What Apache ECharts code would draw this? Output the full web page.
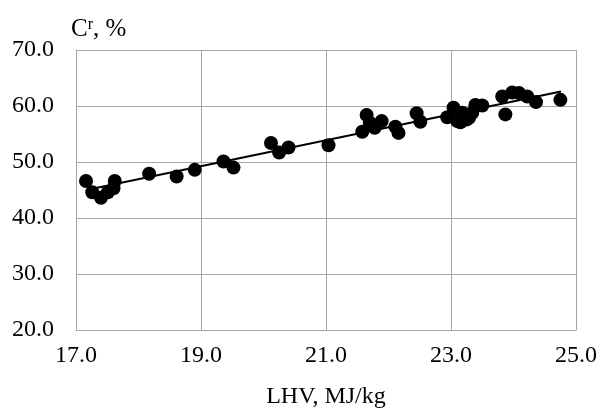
<!DOCTYPE html>
<html>
<head>
<meta charset="utf-8">
<script src="https://cdn.jsdelivr.net/npm/echarts@6/dist/echarts.min.js"></script>
<style>
  html, body { margin: 0; padding: 0; background: #fff; }
  #chart { width: 600px; height: 414px; }
</style>
</head>
<body>
<div id="chart"></div>
<script>
  // LHV, MJ/kg
  const lhv = [17.16, 17.26, 17.40, 17.51, 17.60, 17.62, 18.17, 18.61, 18.90, 19.36, 19.52,
    20.12, 20.25, 20.40, 21.04, 21.58, 21.65, 21.70, 21.78, 21.89, 22.11, 22.16, 22.45, 22.51,
    22.94, 23.04, 23.10, 23.15, 23.18, 23.25, 23.29, 23.34, 23.39, 23.50, 23.82, 23.87, 23.98,
    24.09, 24.22, 24.36, 24.75];
  // C^r, %
  const carbon = [46.6, 44.6, 43.6, 44.6, 45.3, 46.6, 47.9, 47.4, 48.6, 50.1, 49.0,
    53.4, 51.7, 52.6, 53.0, 55.4, 58.4, 57.0, 56.1, 57.3, 56.3, 55.2, 58.7, 57.2,
    58.0, 59.7, 57.3, 57.1, 58.8, 57.6, 57.9, 58.8, 60.2, 60.1, 61.7, 58.5, 62.4,
    62.3, 61.7, 60.7, 61.1];
  // trend line ends
  const trendX = [17.3, 24.76];
  const trendY = [45.3, 62.6];

  const xTicks = { min: 17, max: 25, step: 2 };
  const yTicks = { min: 20, max: 70, step: 10 };

  const fontFamily = '"Liberation Serif", "DejaVu Serif", serif';
  const chart = echarts.init(document.getElementById('chart'));

  const option = {
    animation: false,
    title: {
      text: '{c|C}{r|r}{c|, %}',
      left: 66,
      top: 12,
      textStyle: {
        fontWeight: 'normal',
        rich: {
          c: { fontFamily: fontFamily, fontSize: 25, fontWeight: 'normal', color: '#000' },
          r: { fontFamily: fontFamily, fontSize: 16, fontWeight: 'normal', color: '#000', verticalAlign: 'top', padding: [0, 0, 9, 0] }
        }
      }
    },
    grid: { left: 76, right: 23, top: 50, bottom: 83 },
    xAxis: {
      type: 'value',
      min: xTicks.min,
      max: xTicks.max,
      interval: xTicks.step,
      name: 'LHV, MJ/kg',
      nameLocation: 'middle',
      nameGap: 55,
      nameTextStyle: { fontFamily: fontFamily, fontSize: 24, color: '#000' },
      axisLine: { show: true, lineStyle: { color: '#a6a6a6', width: 1 } },
      axisTick: { show: false },
      axisLabel: {
        fontFamily: fontFamily, fontSize: 24, color: '#000', margin: 14,
        formatter: v => v.toFixed(1)
      },
      splitLine: { show: true, lineStyle: { color: '#a6a6a6', width: 1 } }
    },
    yAxis: {
      type: 'value',
      min: yTicks.min,
      max: yTicks.max,
      interval: yTicks.step,
      axisLine: { show: true, lineStyle: { color: '#a6a6a6', width: 1 } },
      axisTick: { show: false },
      axisLabel: {
        fontFamily: fontFamily, fontSize: 24, color: '#000', margin: 22,
        formatter: v => v.toFixed(1)
      },
      splitLine: { show: true, lineStyle: { color: '#a6a6a6', width: 1 } }
    },
    series: [
      {
        type: 'scatter',
        data: lhv.map((x, i) => [x, carbon[i]]),
        symbol: 'circle',
        symbolSize: 14,
        itemStyle: { color: '#000', opacity: 1 },
        z: 3
      },
      {
        type: 'line',
        data: trendX.map((x, i) => [x, trendY[i]]),
        showSymbol: false,
        lineStyle: { color: '#000', width: 2 },
        z: 4
      }
    ]
  };
  chart.setOption(option);
</script>
</body>
</html>
